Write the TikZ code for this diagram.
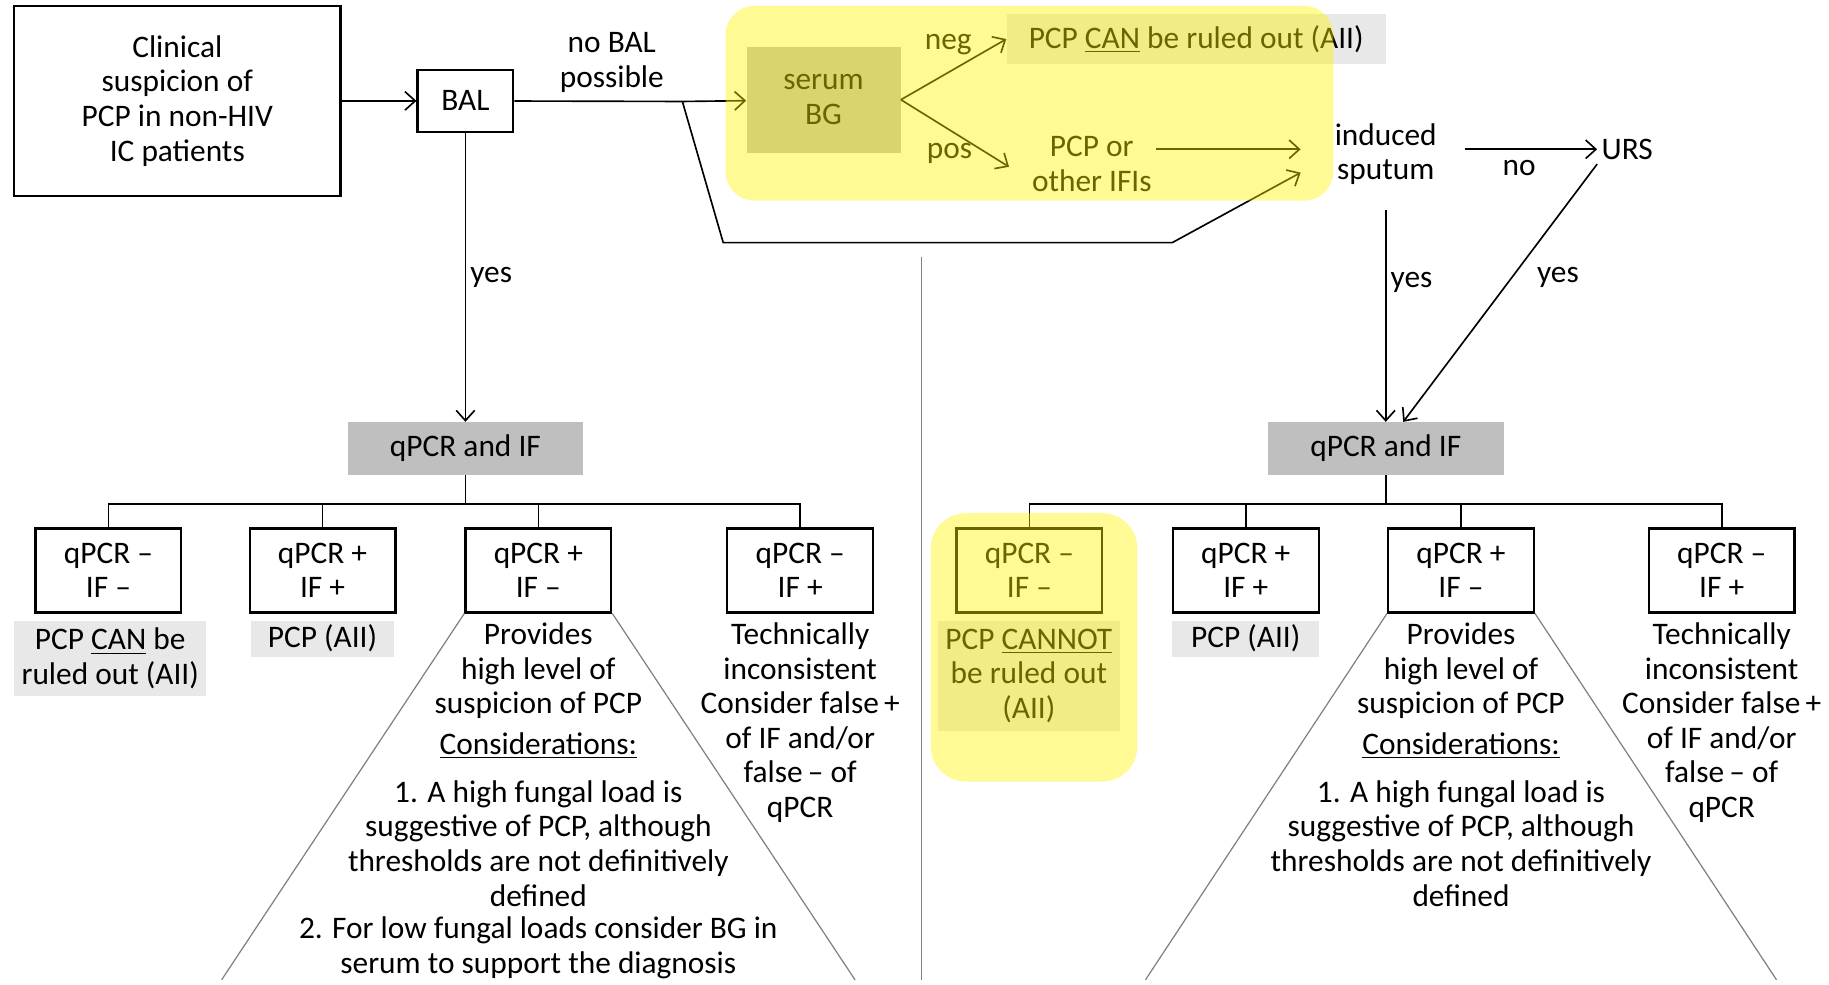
\documentclass[tikz,border=0pt]{standalone}
\usepackage{fontspec}
\setmainfont{Carlito}
\usetikzlibrary{arrows.meta}
\usetikzlibrary{calc}
\tikzstyle{box}=[draw,line width=1.1pt,inner sep=0pt,align=center]
\tikzstyle{result}=[box,minimum width=2.5cm,minimum height=1.44cm]
\tikzstyle{greybox}=[fill=black!25,inner sep=0pt,align=center,minimum width=4.04cm,minimum height=0.9cm]
\tikzstyle{lightbox}=[fill=black!9,inner sep=0pt,align=center]
\tikzstyle{txt}=[align=center,inner sep=2pt]
\tikzstyle{edge}=[draw,line width=0.8pt,->]
\tikzstyle{plainedge}=[draw,line width=0.8pt]
\tikzstyle{thinedge}=[draw,black!50,line width=0.6pt]
\tikzstyle{weight}=[align=center,inner sep=2pt]
\tikzstyle{glow}=[fill=yellow,opacity=0.42,rounded corners=0.5cm]

\begin{document}
\begin{tikzpicture}[x=0.02cm, y=-0.02cm, >={Straight Barb[length=5pt,width=9pt]}, font=\fontsize{15.3}{16.9}\selectfont]

  \useasboundingbox (0,0) rectangle (1568,844);

  % top row
  \node[box, minimum width=5.6cm, minimum height=3.26cm] (clin) at (152,86.5) {Clinical\\suspicion of\\PCP in non-HIV\\IC patients};
  \node[box, minimum width=1.64cm, minimum height=1.06cm] (bal) at (399,86.5) {BAL};
  \node[greybox, minimum width=2.64cm, minimum height=1.82cm] (sbg) at (706,85.5) {serum\\BG};
  \node[lightbox, minimum width=6.5cm, minimum height=0.86cm] (canout) at (1025.5,33.5) {PCP \underline{CAN} be ruled out (AII)};
  \node[txt] (pcpor) at (936,140.5) {PCP or\\other IFIs};
  \node[txt] (ind) at (1188,132) {induced\\sputum};
  \node[txt] (urs) at (1395,128) {URS};

  \coordinate (fork) at (585,87);
  \coordinate (posend) at (865,143);
  \coordinate (indin1) at (1115,128);
  \coordinate (indin2) at (1115,148);

  \path[edge] (clin) -- (bal);
  \path[plainedge] (bal) -- node[weight, above=2pt, pos=0.58] {no BAL\\possible} (fork);
  \path[edge] (fork) -- (sbg);
  \path[edge] (fork) -- (620,208) -- (1005,208) -- (indin2);
  \path[edge] (sbg.east) -- node[weight, above=6pt, pos=0.45] {neg} (canout.west);
  \path[edge] (sbg.east) -- node[weight, below=4pt, pos=0.45] {pos} (posend);
  \path[edge] (pcpor.east |- indin1) -- (indin1);
  \path[edge, shorten <=0.4cm] (ind.east |- urs) -- node[weight, below=3pt, pos=0.5] {no} (urs);

  % qPCR and IF
  \node[greybox] (ql) at (399,384.5) {qPCR and IF};
  \node[greybox] (qr) at (1188,384.5) {qPCR and IF};

  \path[edge] (bal) -- node[weight, right] {yes} (ql);
  \path[edge, shorten <=0.36cm] (ind) -- node[weight, right, pos=0.4] {yes} (qr);
  \path[edge] (urs.south west) -- node[weight, right, pos=0.44, xshift=0.35cm] {yes} ([xshift=0.3cm]qr.north);

  \coordinate (jl) at (399,432);
  \coordinate (jr) at (1188,432);
  \path[plainedge] (ql) -- (jl);
  \path[plainedge] (qr) -- (jr);

  \foreach \x/\name/\label in {93/bl1/{qPCR --\\IF --}, 276.5/bl2/{qPCR +\\IF +}, 461.5/bl3/{qPCR +\\IF --}, 686/bl4/{qPCR --\\IF +},
                               882.5/br1/{qPCR --\\IF --}, 1068/br2/{qPCR +\\IF +}, 1252.5/br3/{qPCR +\\IF --}, 1476/br4/{qPCR --\\IF +}}
          \node[result] (\name) at (\x,489) {\label};

  \foreach \name in {bl1,bl2,bl3,bl4}
         \path[plainedge] (jl) -| (\name.north);
  \foreach \name in {br1,br2,br3,br4}
         \path[plainedge] (jr) -| (\name.north);

  % outcomes, left
  \node[lightbox, minimum width=3.3cm, minimum height=1.3cm] (ll1) at (94.5,564.5) {PCP \underline{CAN} be\\ruled out (AII)};
  \node[lightbox, minimum width=2.46cm, minimum height=0.62cm] (ll2) at (276.5,547.5) {PCP (AII)};
  \node[txt] (prl) at (461.5,575) {Provides\\high level of\\suspicion of PCP};
  \node[txt] (cnl) at (461.5,639) {\underline{Considerations:}};
  \node[txt] (onel) at (461.5,723) {1. A high fungal load is\\suggestive of PCP, although\\thresholds are not definitively\\defined};
  \node[txt] (twol) at (461.5,812.5) {2. For low fungal loads consider BG in\\serum to support the diagnosis};
  \node[txt] (tcl) at (686,619.5) {Technically\\inconsistent\\Consider false\,+\\of IF and/or\\false\,-- of\\qPCR};

  % outcomes, right
  \node[lightbox, minimum width=3.12cm, minimum height=1.9cm] (lr1) at (882,579.5) {PCP \underline{CANNOT}\\be ruled out\\(AII)};
  \node[lightbox, minimum width=2.52cm, minimum height=0.62cm] (lr2) at (1068,547.5) {PCP (AII)};
  \node[txt] (prr) at (1252.5,575) {Provides\\high level of\\suspicion of PCP};
  \node[txt] (cnr) at (1252.5,639) {\underline{Considerations:}};
  \node[txt] (oner) at (1252.5,723) {1. A high fungal load is\\suggestive of PCP, although\\thresholds are not definitively\\defined};
  \node[txt] (tcr) at (1476,619.5) {Technically\\inconsistent\\Consider false\,+\\of IF and/or\\false\,-- of\\qPCR};

  % cones and divider
  \coordinate (tl1) at (190,840);
  \coordinate (tl2) at (733,840);
  \coordinate (tr1) at (982,840);
  \coordinate (tr2) at (1523,840);
  \coordinate (s1) at (790,220);
  \coordinate (s2) at (790,840);
  \path[thinedge] (bl3.south west) -- (tl1);
  \path[thinedge] (bl3.south east) -- (tl2);
  \path[thinedge] (br3.south west) -- (tr1);
  \path[thinedge] (br3.south east) -- (tr2);
  \path[thinedge] (s1) -- (s2);

  % highlights
  \fill[glow] (622,5) rectangle (1143,172);
  \fill[glow, rounded corners=0.6cm] (798,440) rectangle (975,670);

\end{tikzpicture}
\end{document}
